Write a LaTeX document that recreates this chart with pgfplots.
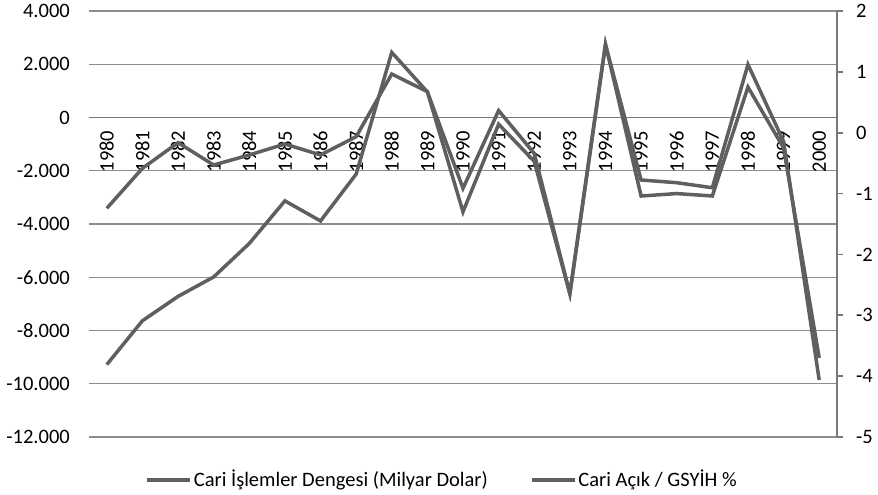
\documentclass[border=0pt]{standalone}
\usepackage{fontspec}
\setmainfont{Carlito}
\usepackage{pgfplots}
\usepackage{pgfplotstable}
\pgfplotsset{compat=1.18}
\definecolor{ser}{RGB}{95,95,95}
\definecolor{gridc}{RGB}{140,140,140}
\definecolor{axl}{RGB}{120,120,120}

\pgfplotstableread{
x cab
0 -3410
1 -1908
2 -946
3 -1784
4 -1408
5 -995
6 -1408
7 -721
8 1634
9 969
10 -2659
11 260
12 -1350
13 -6600
14 2750
15 -2347
16 -2449
17 -2637
18 1990
19 -900
20 -9860
}\cabtable

\pgfplotstableread{
x ratio
0 -3.81
1 -3.09
2 -2.69
3 -2.37
4 -1.82
5 -1.12
6 -1.45
7 -0.68
8 1.32
9 0.67
10 -1.30
11 0.14
12 -0.47
13 -2.65
14 1.45
15 -1.04
16 -1.00
17 -1.04
18 0.75
19 -0.25
20 -3.70
}\ratiotable

\begin{document}
\fontsize{20.5bp}{24bp}\selectfont
\begin{tikzpicture}
\begin{axis}[
  name=ax,
  scale only axis, width=748bp, height=426bp,
  xmin=-0.5, xmax=20.5, ymin=-12000, ymax=4000,
  axis x line*=middle, axis y line*=left,
  x axis line style={draw=axl, line width=1.6bp},
  y axis line style={draw=none},
  xtick={0,...,20},
  xticklabels={1980,1981,1982,1983,1984,1985,1986,1987,1988,1989,1990,1991,1992,1993,1994,1995,1996,1997,1998,1999,2000},
  xtick style={draw=none}, ytick style={draw=none},
  xticklabel style={rotate=90, anchor=east, inner sep=0pt},
  xticklabel shift=13bp,
  ytick={-12000,-10000,-8000,-6000,-4000,-2000,0,2000,4000},
  yticklabels={-12.000,-10.000,-8.000,-6.000,-4.000,-2.000,0,2.000,4.000},
  yticklabel style={anchor=east, inner sep=0pt},
  yticklabel shift=19bp,
  ymajorgrids, grid style={draw=gridc, line width=1.2bp},
  tick label style={font=\fontsize{20.5bp}{24bp}\selectfont},
]
\addplot[ser, line width=3.5bp] table[x=x, y=cab] {\cabtable};
\end{axis}
\begin{axis}[
  scale only axis, width=748bp, height=426bp,
  xmin=-0.5, xmax=20.5, ymin=-5, ymax=2,
  axis x line=none, axis y line*=right,
  y axis line style={draw=axl, line width=1.6bp},
  ytick={-5,-4,-3,-2,-1,0,1,2},
  yticklabels={-5,-4,-3,-2,-1,0,1,2},
  tick align=outside, major tick length=6bp,
  ytick style={draw=axl, line width=1.6bp},
  yticklabel style={anchor=west, inner sep=0pt},
  yticklabel shift=13bp,
  tick label style={font=\fontsize{20.5bp}{24bp}\selectfont},
  legend style={at={(0.472,-0.101)}, anchor=center, draw=none, fill=none,
    legend columns=2, font=\fontsize{20.5bp}{24bp}\selectfont,
    nodes={inner sep=2bp},
    /tikz/every even column/.append style={column sep=40bp}},
  legend image code/.code={\draw[#1] (0bp,0bp) -- (43bp,0bp);},
]
\addlegendimage{ser, line width=3.5bp}
\addlegendentry{Cari İşlemler Dengesi (Milyar Dolar)}
\addplot[ser, line width=3.5bp] table[x=x, y=ratio] {\ratiotable};
\addlegendentry{Cari Açık / GSYİH \%}
\end{axis}
\pgfresetboundingbox
\path[use as bounding box] ([shift={(-89bp,-58bp)}]ax.south west) rectangle ([shift={(41bp,11bp)}]ax.north east);
\end{tikzpicture}
\end{document}
